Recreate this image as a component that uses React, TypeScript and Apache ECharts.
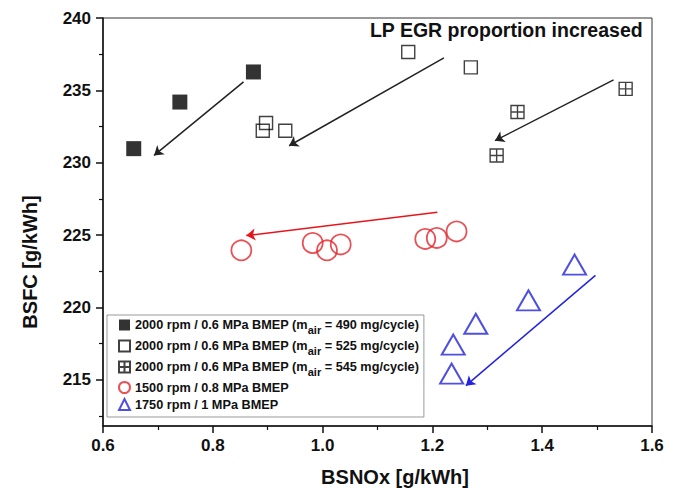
import React, { useEffect, useRef } from "react";
import * as echarts from "echarts";

// ---- data ----
const seriesNames = [
  "2000 rpm / 0.6 MPa BMEP (m_air = 490 mg/cycle)",
  "2000 rpm / 0.6 MPa BMEP (m_air = 525 mg/cycle)",
  "2000 rpm / 0.6 MPa BMEP (m_air = 545 mg/cycle)",
  "1500 rpm / 0.8 MPa BMEP",
  "1750 rpm / 1 MPa BMEP",
];
const filledX = [0.656, 0.74, 0.874];
const filledY = [230.97, 234.19, 236.27];
const openX = [0.891, 0.897, 0.932, 1.156, 1.27];
const openY = [232.21, 232.74, 232.21, 237.65, 236.59];
const hatchX = [1.317, 1.355, 1.552];
const hatchY = [230.5, 233.5, 235.1];
const circleX = [0.852, 0.982, 1.008, 1.033, 1.187, 1.208, 1.244];
const circleY = [223.94, 224.45, 223.94, 224.35, 224.73, 224.8, 225.25];
const triX = [1.235, 1.238, 1.279, 1.375, 1.459];
const triY = [215.42, 217.42, 218.87, 220.48, 222.95];

// arrows: [x1, y1, x2, y2] (start -> head)
const arrowBlack1 = [0.856, 235.58, 0.693, 230.5];
const arrowBlack2 = [1.221, 237.24, 0.939, 231.17];
const arrowBlack3 = [1.53, 235.72, 1.314, 231.52];
const arrowRed = [1.209, 226.57, 0.861, 224.96];
const arrowBlue = [1.497, 222.21, 1.261, 214.59];

const yMajorTicks = [215, 220, 225, 230, 235, 240];
const yMinorTicks = [212.5, 217.5, 222.5, 227.5, 232.5, 237.5];
const xTitle = "BSNOx [g/kWh]";
const yTitle = "BSFC [g/kWh]";
const annotation = "LP EGR proportion increased";

const FONT = "'Liberation Sans', Arial, Helvetica, sans-serif";

const zip = (xs: number[], ys: number[]) => xs.map((x, i) => [x, ys[i]]);

const arrowSeries = (a: number[], color: string) => ({
  type: "lines",
  coordinateSystem: "cartesian2d",
  silent: true,
  symbol: ["none", "arrow"],
  symbolSize: 9,
  lineStyle: { color, width: 1.5, opacity: 1 },
  data: [{ coords: [[a[0], a[1]], [a[2], a[3]]] }],
  z: 3,
});

export default function App() {
  const ref = useRef<HTMLDivElement>(null);
  useEffect(() => {
    if (!ref.current) return;
    const chart = echarts.init(ref.current, null, { renderer: "svg" });
    const hatchPath = "path://M0 0H10V10H0ZM5 0V10M0 5H10";
    chart.setOption({
      animation: false,
      backgroundColor: "#fff",
      textStyle: { fontFamily: FONT },
      grid: {
        left: 103,
        top: 18,
        right: 30,
        bottom: 70,
        show: true,
        borderColor: "#333",
        borderWidth: 1,
      },
      xAxis: {
        type: "value",
        min: 0.6,
        max: 1.6,
        interval: 0.2,
        axisLine: { show: true, lineStyle: { color: "#111", width: 1.5 } },
        axisTick: { show: true, inside: false, length: 7, lineStyle: { color: "#111", width: 1.5 } },
        minorTick: { show: true, splitNumber: 2, length: 4, lineStyle: { color: "#111", width: 1.2 } },
        splitLine: { show: false },
        axisLabel: {
          color: "#111",
          fontSize: 17,
          fontWeight: "bold",
          fontFamily: FONT,
          margin: 11,
          formatter: (v: number) => v.toFixed(1),
        },
      },
      yAxis: [
        {
          type: "value",
          min: 211.8,
          max: 240,
          axisLine: { show: true, lineStyle: { color: "#111", width: 1.5 } },
          axisTick: { show: true, length: 7, customValues: yMajorTicks, lineStyle: { color: "#111", width: 1.5 } },
          splitLine: { show: false },
          axisLabel: {
            color: "#111",
            fontSize: 17,
            fontWeight: "bold",
            fontFamily: FONT,
            margin: 12,
            customValues: yMajorTicks,
          },
        },
        {
          type: "value",
          min: 211.8,
          max: 240,
          position: "left",
          axisLine: { show: false },
          axisTick: { show: true, length: 4, customValues: yMinorTicks, lineStyle: { color: "#111", width: 1.2 } },
          axisLabel: { show: false },
          splitLine: { show: false },
        },
      ],
      legend: {
        orient: "vertical",
        left: 107,
        top: 315,
        data: seriesNames,
        backgroundColor: "#fff",
        borderColor: "#999",
        borderWidth: 1,
        borderRadius: 0,
        padding: [3, 5, 6, 11],
        itemGap: 4,
        itemWidth: 11,
        itemHeight: 11,
        selectedMode: false,
        textStyle: {
          fontFamily: FONT,
          fontSize: 12.7,
          fontWeight: "bold",
          color: "#111",
          rich: {
            t: { fontFamily: FONT, fontSize: 12.7, fontWeight: "bold", color: "#111", lineHeight: 20, verticalAlign: "middle" },
            s: { fontFamily: FONT, fontSize: 11, fontWeight: "bold", color: "#111", lineHeight: 20, verticalAlign: "bottom", padding: [6, 0, 0, 0] },
          },
        },
        formatter: (name: string) => {
          const idx = name.indexOf("_air");
          if (idx < 0) return name;
          return "{t|" + name.slice(0, idx) + "}{s|air}{t|" + name.slice(idx + 4) + "}";
        },
      },
      graphic: [
        {
          type: "text",
          right: 39,
          top: 20,
          style: { text: annotation, fontFamily: FONT, fontSize: 19.5, fontWeight: "bold", fill: "#111" },
        },
        {
          type: "text",
          x: 395,
          y: 477,
          style: { text: xTitle, fontFamily: FONT, fontSize: 20, fontWeight: "bold", fill: "#111", align: "center", verticalAlign: "middle" },
        },
        {
          type: "text",
          x: 30,
          y: 262,
          rotation: Math.PI / 2,
          style: { text: yTitle, fontFamily: FONT, fontSize: 20, fontWeight: "bold", fill: "#111", align: "center", verticalAlign: "middle" },
        },
      ],
      series: [
        {
          name: seriesNames[0],
          type: "scatter",
          symbol: "rect",
          symbolSize: 15,
          itemStyle: { color: "#000", borderColor: "#000", borderWidth: 0 },
          data: zip(filledX, filledY),
          z: 4,
        },
        {
          name: seriesNames[1],
          type: "scatter",
          symbol: "rect",
          symbolSize: 13,
          itemStyle: { color: "rgba(255,255,255,0)", borderColor: "#111", borderWidth: 1.4 },
          data: zip(openX, openY),
          z: 4,
        },
        {
          name: seriesNames[2],
          type: "scatter",
          symbol: hatchPath,
          symbolSize: 13,
          itemStyle: { color: "rgba(255,255,255,0)", borderColor: "#111", borderWidth: 1.4 },
          data: zip(hatchX, hatchY),
          z: 4,
        },
        {
          name: seriesNames[3],
          type: "scatter",
          symbol: "circle",
          symbolSize: 20,
          itemStyle: { color: "rgba(255,255,255,0)", borderColor: "#e3262c", borderWidth: 1.8 },
          data: zip(circleX, circleY),
          z: 4,
        },
        {
          name: seriesNames[4],
          type: "scatter",
          symbol: "triangle",
          symbolSize: [23, 20],
          itemStyle: { color: "rgba(255,255,255,0)", borderColor: "#2424d6", borderWidth: 2 },
          data: zip(triX, triY),
          z: 4,
        },
        arrowSeries(arrowBlack1, "#222"),
        arrowSeries(arrowBlack2, "#222"),
        arrowSeries(arrowBlack3, "#222"),
        arrowSeries(arrowRed, "#e8141c"),
        arrowSeries(arrowBlue, "#2222e0"),
      ],
    });
    return () => chart.dispose();
  }, []);
  return (
    <div
      ref={ref}
      style={{ position: "fixed", left: 0, top: 0, width: 682, height: 496 }}
    />
  );
}
